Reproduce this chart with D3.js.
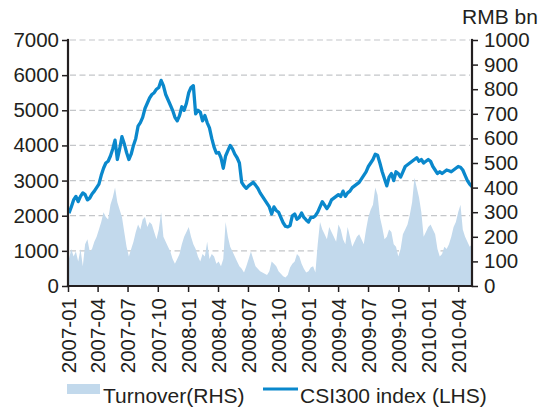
<!DOCTYPE html>
<html>
<head>
<meta charset="utf-8">
<script src="https://cdn.jsdelivr.net/npm/d3@7"></script>
<style>
  body { margin: 0; background: #fff; }
  text { font-family: "Liberation Sans", Arial, sans-serif; fill: #231f20; }
</style>
</head>
<body>
<div id="chart"></div>
<script>
// quarter tick labels on the x axis
const TICK_LABELS = ["2007-01", "2007-04", "2007-07", "2007-10", "2008-01", "2008-04", "2008-07",
  "2008-10", "2009-01", "2009-04", "2009-07", "2009-10", "2010-01", "2010-04"];
const LEFT_TICKS = [0, 1000, 2000, 3000, 4000, 5000, 6000, 7000];
const RIGHT_TICKS = [0, 100, 200, 300, 400, 500, 600, 700, 800, 900, 1000];

// weekly CSI300 close (LHS), first week of Jan 2007 .. mid May 2010
const csi300 = [
  2070, 2250, 2450, 2550, 2400, 2550, 2650, 2600, 2450, 2500, 2620, 2700, 2800, 2900, 3150, 3350,
  3500, 3550, 3700, 3900, 4150, 3600, 3900, 4250, 4050, 3800, 3600, 3750, 4000, 4200, 4550, 4650,
  4800, 5050, 5200, 5350, 5450, 5500, 5600, 5650, 5850, 5700, 5450, 5300, 5150, 5000, 4800, 4700,
  4850, 5100, 5000, 5200, 5500, 5650, 5700, 4900, 5000, 4950, 4700, 4850, 4650, 4500, 4200, 3950,
  3780, 3800, 3650, 3350, 3700, 3850, 4000, 3900, 3750, 3650, 3500, 2950, 2850, 2780, 2850, 2900,
  2950, 2870, 2780, 2650, 2550, 2450, 2350, 2250, 2050, 2250, 2150, 2100, 1950, 1800, 1700, 1680,
  1720, 2000, 2050, 1900, 1950, 2080, 1950, 1880, 1820, 1950, 1950, 2000, 2100, 2250, 2400, 2300,
  2200, 2300, 2450, 2500, 2550, 2600, 2550, 2700, 2550, 2650, 2700, 2800, 2850, 2900, 2950, 3050,
  3150, 3250, 3400, 3500, 3600, 3750, 3720, 3500, 3250, 3050, 2850, 3100, 3200, 3000, 3250, 3200,
  3100, 3250, 3400, 3450, 3500, 3550, 3600, 3650, 3550, 3600, 3500, 3550, 3600, 3550, 3400, 3300,
  3200, 3250, 3200, 3250, 3300, 3280, 3250, 3300, 3350, 3400, 3380, 3300, 3150, 3000, 2900, 2830
];

// weekly turnover, RMB bn (RHS)
const turnover = [
  110, 150, 120, 140, 100, 150, 80, 170, 190, 140, 150, 180, 200, 230, 260, 300,
  280, 270, 330, 360, 400, 340, 310, 280, 220, 160, 120, 150, 180, 220, 250, 230,
  270, 280, 240, 260, 250, 220, 190, 230, 300, 200, 180, 160, 140, 110, 90, 110,
  130, 170, 200, 220, 240, 200, 170, 150, 120, 100, 130, 120, 180, 110, 130, 120,
  90, 100, 80, 110, 260, 200, 160, 140, 120, 100, 80, 70, 55, 80, 110, 140,
  110, 80, 70, 60, 55, 50, 45, 60, 100, 90, 80, 60, 50, 40, 35, 45,
  75, 90, 100, 130, 120, 90, 70, 55, 60, 75, 80, 55, 170, 260, 230, 210,
  190, 240, 220, 200, 180, 250, 230, 190, 170, 240, 200, 160, 180, 200, 210, 190,
  170, 230, 280, 310, 330, 400, 370, 280, 240, 190, 200, 230, 220, 170, 160, 120,
  150, 210, 230, 250, 290, 340, 440, 400, 360, 300, 200, 220, 240, 250, 230, 210,
  150, 120, 130, 160, 150, 170, 200, 240, 260, 300, 330, 230, 200, 180, 160, 170
];

const W = 557, H = 409;
const PLOT = { left: 68, right: 472, top: 40, bottom: 286 };
const LINE_COLOR = "#0a88cc";
const AREA_COLOR = "#c2d9ec";

const weeks = d3.timeThursday.range(new Date(2007, 0, 4), new Date(2010, 4, 14));
const parseMonth = d3.timeParse("%Y-%m");
const data = weeks.map((d, i) => ({ date: d, csi: csi300[i], turn: turnover[i] }));

const svg = d3.select("#chart").append("svg").attr("width", W).attr("height", H);

const x = d3.scaleTime()
  .domain([new Date(2007, 0, 1), weeks[weeks.length - 1]])
  .range([PLOT.left, PLOT.right]);
const yL = d3.scaleLinear().domain([0, 7000]).range([PLOT.bottom, PLOT.top]);
const yR = d3.scaleLinear().domain([0, 1000]).range([PLOT.bottom, PLOT.top]);

// dashed gridlines from the left axis
svg.append("g")
  .selectAll("line")
  .data(LEFT_TICKS.filter((d) => d > 0))
  .join("line")
  .attr("x1", PLOT.left + 2).attr("x2", PLOT.right - 2)
  .attr("y1", (d) => yL(d)).attr("y2", (d) => yL(d))
  .attr("stroke", "#c4c6c9").attr("stroke-width", 1.2)
  .attr("stroke-dasharray", "6,3.5");

// turnover area
svg.append("path")
  .datum(data)
  .attr("fill", AREA_COLOR)
  .attr("d", d3.area().x((d) => x(d.date)).y0(yR(0)).y1((d) => yR(d.turn)));

// CSI300 line
svg.append("path")
  .datum(data)
  .attr("fill", "none")
  .attr("stroke", LINE_COLOR)
  .attr("stroke-width", 3.3)
  .attr("stroke-linejoin", "round")
  .attr("d", d3.line().x((d) => x(d.date)).y((d) => yL(d.csi)));

// axes
const styleAxis = (g) => {
  g.select(".domain").remove();
  g.selectAll(".tick line").attr("stroke", "#231f20").attr("stroke-width", 1.5);
  g.selectAll(".tick text").style("font-size", "20.5px").attr("fill", "#231f20");
};

svg.append("g")
  .attr("transform", `translate(${PLOT.left},0)`)
  .call(d3.axisLeft(yL).tickValues(LEFT_TICKS).tickSize(6).tickPadding(3).tickFormat(d3.format("d")))
  .call(styleAxis);

svg.append("g")
  .attr("transform", `translate(${PLOT.right},0)`)
  .call(d3.axisRight(yR).tickValues(RIGHT_TICKS).tickSize(6).tickPadding(6).tickFormat(d3.format("d")))
  .call(styleAxis);

const xAxis = svg.append("g")
  .attr("transform", `translate(0,${PLOT.bottom})`)
  .call(d3.axisBottom(x)
    .tickValues(TICK_LABELS.map(parseMonth))
    .tickSize(6)
    .tickFormat(d3.timeFormat("%Y-%m")))
  .call(styleAxis);

xAxis.selectAll(".tick text")
  .attr("transform", "rotate(-90)")
  .attr("text-anchor", "end")
  .attr("x", -12)
  .attr("y", 0)
  .attr("dy", "0.36em");

// axis lines drawn on top
const axisLines = [
  [PLOT.left, PLOT.top, PLOT.left, PLOT.bottom],
  [PLOT.right, PLOT.top, PLOT.right, PLOT.bottom],
  [PLOT.left, PLOT.bottom, PLOT.right, PLOT.bottom],
];
svg.append("g")
  .selectAll("line")
  .data(axisLines)
  .join("line")
  .attr("x1", (d) => d[0]).attr("y1", (d) => d[1])
  .attr("x2", (d) => d[2]).attr("y2", (d) => d[3])
  .attr("stroke", "#231f20").attr("stroke-width", 2.2)
  .attr("stroke-linecap", "square");

// unit label
svg.append("text")
  .attr("x", 462).attr("y", 24)
  .style("font-size", "21px")
  .text("RMB bn");

// legend
const legend = svg.append("g");
legend.append("rect")
  .attr("x", 67).attr("y", 384).attr("width", 33).attr("height", 10)
  .attr("fill", AREA_COLOR);
legend.append("text")
  .attr("x", 103).attr("y", 403)
  .style("font-size", "21px")
  .text("Turnover(RHS)");
legend.append("line")
  .attr("x1", 263).attr("x2", 298).attr("y1", 389).attr("y2", 389)
  .attr("stroke", LINE_COLOR).attr("stroke-width", 3);
legend.append("text")
  .attr("x", 300).attr("y", 403)
  .style("font-size", "21px")
  .text("CSI300 index (LHS)");
</script>
</body>
</html>
